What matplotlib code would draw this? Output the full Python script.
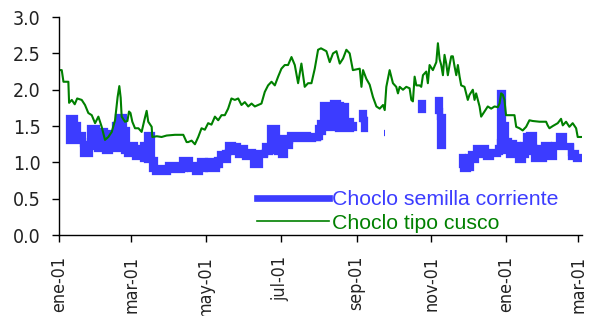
import numpy as np
import pandas as pd
import matplotlib
matplotlib.use("Agg")
import matplotlib.pyplot as plt
from matplotlib import font_manager as fm
from matplotlib.lines import Line2D

start = pd.Timestamp("2001-01-01")

# Choclo semilla corriente: low / high of the daily band (days since 1 Jan 2001), nan = no quote
blue_days = [8, 13.3, 16, 20, 25.5, 31, 37.7, 41.8, 45.9, 48.6, 53.5, 55.4, 62.2, 69, 71.7,
             75.8, 78.5, 89.3, 100.2, 103, 107, 111, 115, 119, 122, 126, 129, 131.5, 135.5,
             138, 142, 146, 152, 158.6, 164, 168, 172, 177.7, 181.7, 184.4, 188.5, 203.4,
             207.5, 211.6, 213, 215.6, 219.7, 223.8, 227.9, 230.6, 234.7, 238.8, 241, 243,
             247.8, 249, 250.1, 251,
             265.4, 266.4, 267,
             296, 297, 298,
             309.4, 310.8, 313.2, 314,
             329.2, 329.8, 333.8, 336.6, 340.7, 344.7, 348.8, 352.9, 358.3, 359.7, 362.3,
             365.1, 367.8, 371.9, 374.6, 378.6, 381.4, 384.1, 388.2, 392.3, 396.3, 400.4,
             404.5, 408.6, 412.6, 418.1, 422.2, 425.5]
blue_lo = [1.30, 1.30, 1.30, 1.12, 1.21, 1.19, 1.16, 1.21, 1.19, 1.19, 1.16, 1.12, 1.07, 1.05, 1.03,
           0.91, 0.87, 0.89, 0.91, 0.93, 0.91, 0.87, 0.91, 0.93, 0.91, 0.91, 0.96, 1.03, 1.03,
           1.14, 1.14, 1.10, 1.07, 0.96, 1.10, 1.14, 1.16, 1.14, 1.10, 1.23, 1.32, 1.32,
           1.34, 1.35, 1.42, 1.48, 1.48, 1.62, 1.46, 1.46, 1.46, 1.48, 1.48, np.nan,
           1.60, 1.46, 1.46, np.nan,
           1.41, 1.41, np.nan,
           1.72, 1.72, np.nan,
           1.71, 1.23, 1.23, np.nan,
           0.96, 0.91, 0.93, 1.03, 1.10, 1.14, 1.07, 1.12, 1.14, 1.28, 1.16,
           1.21, 1.10, 1.10, 1.03, 1.10, 1.14, 1.21, 1.05, 1.05, 1.12, 1.07,
           1.21, 1.21, 1.21, 1.07, 1.05, 1.05]
blue_hi = [1.61, 1.51, 1.38, 1.26, 1.47, 1.43, 1.34, 1.41, 1.52, 1.63, 1.45, 1.24, 1.20, 1.24, 1.38,
           1.04, 0.92, 0.97, 1.04, 1.04, 0.97, 0.95, 1.02, 0.97, 1.02, 0.95, 1.04, 1.11, 1.13,
           1.24, 1.22, 1.20, 1.15, 1.13, 1.11, 1.22, 1.47, 1.34, 1.34, 1.29, 1.38, 1.36,
           1.34, 1.47, 1.54, 1.79, 1.75, 1.82, 1.79, 1.77, 1.57, 1.52, 1.52, np.nan,
           1.68, 1.59, 1.59, np.nan,
           1.41, 1.41, np.nan,
           1.82, 1.82, np.nan,
           1.86, 1.63, 1.63, np.nan,
           1.08, 1.02, 1.08, 1.11, 1.20, 1.20, 1.13, 1.15, 1.20, 1.96, 1.52,
           1.29, 1.27, 1.24, 1.20, 1.24, 1.36, 1.38, 1.20, 1.20, 1.24, 1.22,
           1.24, 1.36, 1.22, 1.13, 1.08, 1.08]

# Choclo tipo cusco
green_days = [0, 2.4, 3.8, 7.8, 8.4, 10.6, 13, 15, 18.7, 21.4, 24.1, 26.9, 29.6, 32.3, 35, 37.7,
              40.4, 43.2, 45.9, 48, 49.4, 50.5, 51.3, 54, 56, 57.3, 58.5, 60, 62.2, 65, 67.6,
              69.8, 71.7, 73, 75.8, 76.3, 80, 83.9, 88, 94.8, 101.6, 104.3, 105.6, 108.4, 111.1,
              113.8, 116.5, 119.2, 121.9, 124.6, 127.4, 130.1, 132.8, 135.5, 138.2, 140.9,
              143.7, 146.4, 149.1, 151.8, 154.6, 157.3, 160, 162.7, 165.4, 168.1, 170.8,
              173.6, 176.3, 179, 181.7, 184.4, 187.1, 189.9, 192.6, 195.3, 198, 200.7, 203.4,
              206.2, 208.9, 211.6, 214, 218.4, 221.1, 223.8, 226.6, 229.3, 232, 234.7, 237.4,
              240, 245.6, 247, 248.3, 251, 253.7, 256.4, 259.2, 261.9, 264.6, 266, 267.3,
              270, 272.7, 275.4, 276.8, 278.2, 280.9, 283.6, 286.3, 287.7, 289, 290.4, 291.8,
              294.5, 295.8, 297.2, 299.9, 301.2, 302.6, 305.3, 308.1, 309.4, 310.8, 312.1,
              313.5, 314.8, 316.2, 317.5, 318.9, 320.3, 321.6, 323, 324.4, 325.7, 327.1,
              328.4, 331.1, 333.8, 335.2, 337.9, 339.3, 340.6, 342, 343.4, 344.7, 347.4,
              350.1, 352.9, 355.6, 358.3, 359.7, 361, 362.4, 363.7, 365, 367.8, 370.5, 371.9,
              373.3, 376, 378.6, 381.4, 384.1, 386.8, 392.3, 397.7, 399, 400.4, 403.1, 407.2,
              409.9, 411.3, 414, 416.7, 419.4, 422.2, 423.5, 426.2]
green_vals = [2.27, 2.27, 2.11, 2.11, 1.82, 1.86, 1.80, 1.88, 1.86, 1.79, 1.68, 1.65, 1.54, 1.63, 1.49, 1.31,
              1.35, 1.42, 1.58, 1.90, 2.05, 1.89, 1.63, 1.56, 1.57, 1.70, 1.68, 1.56, 1.47, 1.47, 1.42,
              1.58, 1.71, 1.56, 1.49, 1.35, 1.36, 1.35, 1.37, 1.38, 1.38, 1.28, 1.28, 1.30, 1.25,
              1.35, 1.47, 1.45, 1.54, 1.52, 1.63, 1.58, 1.65, 1.65, 1.74, 1.88,
              1.86, 1.88, 1.79, 1.83, 1.77, 1.81, 1.77, 1.79, 1.81, 1.97, 2.06,
              2.11, 2.06, 2.18, 2.29, 2.34, 2.34, 2.45, 2.34, 2.09, 2.36, 2.04, 2.09,
              2.09, 2.29, 2.55, 2.57, 2.53, 2.38, 2.50, 2.53, 2.36, 2.43, 2.55, 2.50,
              2.27, 2.29, 2.04, 2.27, 2.15, 2.07, 1.90, 1.77, 1.74, 1.79, 1.72, 2.04,
              2.27, 2.09, 2.04, 1.95, 2.04, 2.00, 2.04, 2.02, 1.86, 1.84, 2.18, 2.06,
              2.06, 2.04, 2.20, 2.25, 2.09, 2.34, 2.27, 2.38, 2.64, 2.42, 2.34,
              2.20, 2.48, 2.36, 2.20, 2.34, 2.46, 2.46, 2.32, 2.20, 2.34, 2.18,
              2.06, 2.04, 1.86, 1.93, 2.00, 1.86, 1.95, 1.86, 1.77, 1.63, 1.70,
              1.77, 1.74, 1.77, 1.76, 1.81, 1.95, 1.93, 1.86, 1.65, 1.65, 1.65, 1.65,
              1.49, 1.47, 1.44, 1.49, 1.58, 1.57, 1.56, 1.56, 1.51, 1.47, 1.50, 1.54,
              1.60, 1.51, 1.56, 1.49, 1.54, 1.47, 1.35, 1.35]

tick_dates = ["2001-01-01", "2001-03-01", "2001-05-01", "2001-07-01",
              "2001-09-01", "2001-11-01", "2002-01-01", "2002-03-01"]
tick_labels = ["ene-01", "mar-01", "may-01", "jul-01", "sep-01", "nov-01", "ene-01", "mar-01"]
y_ticks = [0.0, 0.5, 1.0, 1.5, 2.0, 2.5, 3.0]

series_names = ["Choclo semilla corriente", "Choclo tipo cusco"]
blue = "#3c3cff"
green = "#008000"


def narrow_font():
    """Look for an installed narrow/condensed sans face, else None."""
    for f in fm.fontManager.ttflist:
        tag = (f.name + " " + str(f.stretch)).lower()
        if ("narrow" in tag or "condensed" in tag) and f.style == "normal" \
                and f.weight in (400, "normal", "regular"):
            return fm.FontProperties(fname=f.fname)
    return None


plt.rcParams["font.family"] = ["Liberation Sans", "DejaVu Sans"]
tick_fp = narrow_font()

bx = start + pd.to_timedelta(blue_days, unit="D")
gx = start + pd.to_timedelta(green_days, unit="D")

fig = plt.figure(figsize=(6.0, 3.16), dpi=100)
ax = fig.add_axes([0.098, 0.256, 0.872, 0.690])

ax.fill_between(bx, np.array(blue_lo), np.array(blue_hi), step="post",
                facecolor=blue, edgecolor=blue, linewidth=4.5, joinstyle="miter")
ax.plot(gx, green_vals, color=green, lw=1.5)

ax.set_xlim(start, start + pd.Timedelta(days=427))
ax.set_ylim(0, 3.0)
ax.set_yticks(y_ticks)
ax.set_yticklabels([f"{v:.1f}" for v in y_ticks])
ax.set_xticks(pd.to_datetime(tick_dates))
ax.set_xticklabels(tick_labels, rotation=90)

for s in ["top", "right"]:
    ax.spines[s].set_visible(False)
for s in ["left", "bottom"]:
    ax.spines[s].set_color("black")
    ax.spines[s].set_linewidth(1.0)

ysize = 14 if tick_fp is not None else 13
xsize = 12.8 if tick_fp is not None else 12.5
ax.tick_params(axis="y", direction="out", length=5, width=1, pad=8,
               labelsize=ysize, labelcolor="#222222")
ax.tick_params(axis="x", direction="out", length=5, width=1, pad=10,
               labelsize=xsize, labelcolor="#222222")
if tick_fp is not None:
    for lab in ax.get_yticklabels():
        lab.set_fontproperties(tick_fp)
        lab.set_fontsize(ysize)
    for lab in ax.get_xticklabels():
        lab.set_fontproperties(tick_fp)
        lab.set_fontsize(xsize)

handles = [Line2D([], [], color=blue, lw=4.8),
           Line2D([], [], color=green, lw=1.2)]
leg = ax.legend(handles, series_names, loc="upper left", bbox_to_anchor=(0.378, 0.205),
                frameon=False, fontsize=15.3, handlelength=3.4, handletextpad=0.15,
                labelspacing=0.2, borderpad=0, borderaxespad=0)
for txt, c in zip(leg.get_texts(), [blue, green]):
    txt.set_color(c)

fig.savefig("out.png", dpi=100)
